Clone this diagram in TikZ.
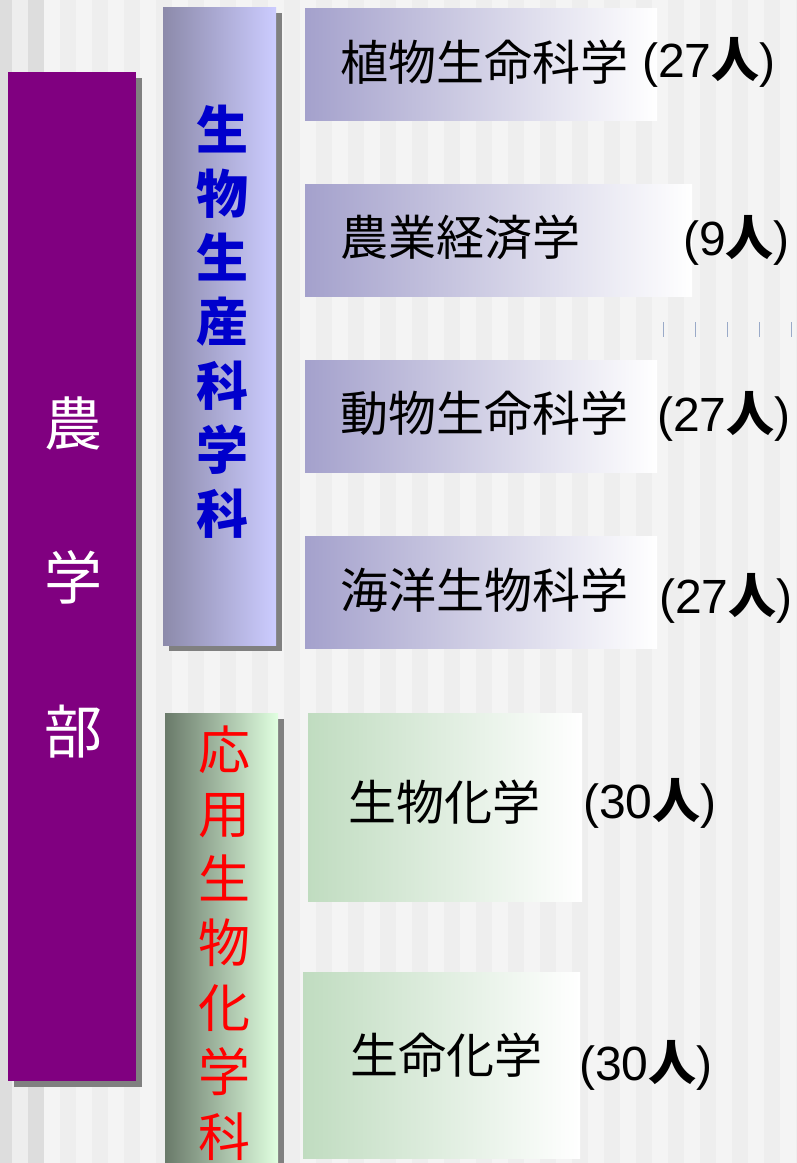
\documentclass[tikz,border=0pt]{standalone}
\usepackage{fontspec}
\setmainfont{Noto Sans CJK JP}
\newfontfamily\latinfont{Liberation Sans}
\newfontfamily\jpfont{Noto Sans CJK JP}
\usetikzlibrary{positioning, shadows}

\definecolor{stripedark}{HTML}{DDDDDD}
\definecolor{stripemid}{HTML}{EEEEEE}
\definecolor{stripelight}{HTML}{F4F4F4}
\definecolor{farmpurple}{HTML}{800080}
\definecolor{shadowgray}{HTML}{808080}
\definecolor{bioleft}{HTML}{8C8AAA}
\definecolor{bioright}{HTML}{CCCCFF}
\definecolor{chemleft}{HTML}{6A7A6A}
\definecolor{chemright}{HTML}{E0FFE0}
\definecolor{courseblue}{HTML}{A4A1CC}
\definecolor{coursegreen}{HTML}{C0DCC0}
\definecolor{tickblue}{HTML}{9AAAC8}

\tikzset{
  boxshadow/.style={drop shadow={shadow xshift=6pt, shadow yshift=-6pt, fill=shadowgray, opacity=1}},
  colbox/.style={inner sep=0pt, outer sep=0pt, boxshadow},
  coursebox/.style={inner sep=0pt, outer sep=0pt, minimum width=352pt, minimum height=112pt,
    shade, shading angle=90, left color=courseblue, right color=white},
  chembox/.style={coursebox, left color=coursegreen, minimum height=188pt},
  coursename/.style={anchor=west, inner sep=0pt, font=\fontsize{48}{48}\selectfont},
  coursecount/.style={anchor=west, inner sep=0pt, font=\latinfont\fontsize{48}{48}\selectfont},
}
\newcommand{\persons}[1]{(#1{\jpfont\bfseries 人})}

\begin{document}
\begin{tikzpicture}[x=1pt, y=-1pt]
    \useasboundingbox (0,0) rectangle (796,1163);
    % Striped background
    \fill[stripelight] (0,0) rectangle (796,1163);
    \foreach \i in {1,4,6,8,...,50}
      \fill[stripemid] (-4+16*\i,0) rectangle (12+16*\i,1163);
    \foreach \i in {0,2}
      \fill[stripedark] (-4+16*\i,0) rectangle (12+16*\i,1163);

    % Faculty column
    \node[colbox, fill=farmpurple, minimum width=128pt, minimum height=1009pt] (farm) at (72,576.5) {};
    \node[text=white, align=center, font=\fontsize{58}{154}\selectfont] (farmtext) at (74,577) {農\\学\\部};

    % Department columns
    \node[colbox, shade, left color=bioleft, right color=bioright,
          minimum width=113pt, minimum height=638pt] (bioprod) at (219.5,326) {};
    \node[text={rgb,255:red,0;green,0;blue,204}, align=center,
          font=\bfseries\fontsize{52}{64}\selectfont] (bioprodtext) at (222,322) {生\\物\\生\\産\\科\\学\\科};

    \node[colbox, shade, left color=chemleft, right color=chemright,
          minimum width=113pt, minimum height=470pt] (appchem) at (221.5,948) {};
    \node[text=red, align=center, font=\fontsize{52}{64.5}\selectfont] (appchemtext) at (224,943) {応\\用\\生\\物\\化\\学\\科};

    % Courses
    \node[coursebox] (plant) at (481,64) {};
    \node[coursebox, minimum width=387pt] (econ) at (498.5,240) {};
    \node[coursebox] (animal) at (481,416) {};
    \node[coursebox] (marine) at (481,592) {};
    \node[chembox, minimum width=274pt] (biochem) at (445,807) {};
    \node[chembox, minimum width=277pt, minimum height=186pt] (lifechem) at (441.5,1065) {};

    \node[coursename] (plantname) at (340,62) {植物生命科学};
    \node[coursecount] (plantcount) at (642,62) {\persons{27}};
    \node[coursename] (econname) at (340,237) {農業経済学};
    \node[coursecount] (econcount) at (683,240) {\persons{9}};
    \node[coursename] (animalname) at (340,413) {動物生命科学};
    \node[coursecount] (animalcount) at (657,416) {\persons{27}};
    \node[coursename] (marinename) at (340,590) {海洋生物科学};
    \node[coursecount] (marinecount) at (659,598) {\persons{27}};
    \node[coursename] (biochemname) at (348,802) {生物化学};
    \node[coursecount] (biochemcount) at (583,803) {\persons{30}};
    \node[coursename] (lifechemname) at (350,1055) {生命化学};
    \node[coursecount] (lifechemcount) at (579,1065) {\persons{30}};

    % Small marks on the right
    \foreach \x in {663,695,727,759,791}
      \draw[tickblue, line width=1pt] (\x,322) -- (\x,337);
\end{tikzpicture}
\end{document}
